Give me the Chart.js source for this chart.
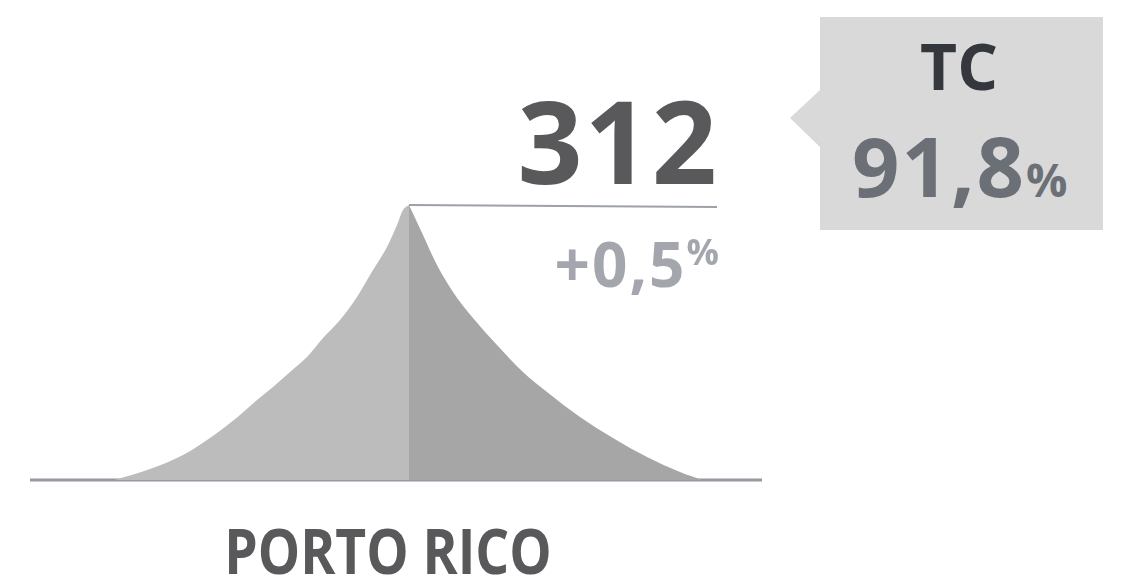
<!DOCTYPE html>
<html lang="pt">
<head>
<meta charset="utf-8">
<title>Porto Rico</title>
<script src="https://cdn.jsdelivr.net/npm/chart.js@4/dist/chart.umd.min.js"></script>
<style>
    html, body {
        margin: 0;
        padding: 0;
        background: #ffffff;
    }

    #palco {
        position: relative;
        width: 1128px;
        height: 587px;
        overflow: hidden;
        font-family: "Open Sans", "Noto Sans", sans-serif;
    }

    #picoChart {
        position: absolute;
        left: 0;
        top: 0;
    }

    .texto {
        position: absolute;
        line-height: 1;
        white-space: nowrap;
    }

    #valor {
        top: 83px;
        right: 409px;
        font-size: 114px;
        font-weight: 700;
        color: #59595b;
        letter-spacing: 2px;
    }

    #variacao {
        top: 232px;
        right: 409px;
        font-size: 62px;
        font-weight: 700;
        color: #a3a7ad;
        letter-spacing: 2px;
    }

    #variacao sup {
        font-size: 36px;
        vertical-align: 22px;
        letter-spacing: 0;
    }

    #pais {
        top: 519px;
        left: 388px;
        transform: translateX(-50%) scaleX(0.86);
        font-size: 62px;
        font-weight: 700;
        color: #59595b;
    }

    #balao {
        position: absolute;
        left: 820px;
        top: 17px;
        width: 283px;
        height: 213px;
        background: #d9d9d9;
    }

    #balao::before {
        content: "";
        position: absolute;
        left: -30px;
        top: 73px;
        border-right: 30px solid #d9d9d9;
        border-top: 28px solid transparent;
        border-bottom: 29px solid transparent;
    }

    #rotuloTaxa {
        top: 17px;
        left: 139px;
        transform: translateX(-50%);
        font-size: 64px;
        font-weight: 700;
        color: #34373c;
    }

    #taxa {
        top: 106px;
        left: 32px;
        font-size: 83px;
        font-weight: 700;
        color: #6b7077;
        letter-spacing: 2px;
    }

    #taxa small {
        font-size: 46px;
        font-weight: 700;
        letter-spacing: 0;
    }
</style>
</head>
<body>
<div id="palco">
    <canvas id="picoChart" width="1128" height="587"></canvas>
    <div id="valor" class="texto"></div>
    <div id="variacao" class="texto"></div>
    <div id="pais" class="texto"></div>
    <div id="balao">
        <div id="rotuloTaxa" class="texto"></div>
        <div id="taxa" class="texto"></div>
    </div>
</div>

<script>
// =========================
// DADOS
// =========================

// perfil da montanha (x = distância, y = altura acima da base)
const encostaEsquerdaX = [115, 150, 183, 217, 240, 257, 273, 290, 307, 323, 340, 357, 373, 387, 397, 403, 409];
const encostaEsquerdaY = [0, 11, 25, 47, 65, 80, 93, 108, 123, 142, 160, 183, 210, 233, 255, 270, 275];

const encostaDireitaX = [409, 423, 437, 453, 473, 497, 523, 547, 580, 613, 647, 680, 702];
const encostaDireitaY = [275, 245, 215, 188, 162, 135, 108, 88, 63, 42, 23, 8, 0];

const linhaBaseX = [30, 762];
const linhaBaseY = [0, 0];

const linhaPicoX = [409, 717];
const linhaPicoY = [275, 273];

const valorPrincipal = "312";
const valorVariacao = "+0,5";
const nomePais = "PORTO RICO";
const rotuloTaxa = "TC";
const valorTaxa = "91,8";

document.addEventListener("DOMContentLoaded", iniciarGrafico);

function iniciarGrafico() {

    preencherTextos();

    criarGraficoPico();

}


// =========================
// TEXTOS
// =========================

function preencherTextos() {

    document.getElementById("valor").textContent = valorPrincipal;

    document.getElementById("variacao").innerHTML =
        `${valorVariacao}<sup>%</sup>`;

    document.getElementById("pais").textContent = nomePais;

    document.getElementById("rotuloTaxa").textContent = rotuloTaxa;

    document.getElementById("taxa").innerHTML =
        `${valorTaxa}<small>%</small>`;

}


// =========================
// GRÁFICO
// =========================

function pontos(xs, ys) {

    return xs.map((x, i) => ({ x: x, y: ys[i] }));

}

function criarGraficoPico() {

    const ctx = document.getElementById("picoChart");

    new Chart(ctx, {

        type: "line",

        data: {

            datasets: [

                {
                    data: pontos(encostaEsquerdaX, encostaEsquerdaY),
                    borderWidth: 0,
                    borderColor: "rgba(0,0,0,0)",
                    backgroundColor: "#bcbcbc",
                    fill: "origin",
                    cubicInterpolationMode: "monotone",
                    pointRadius: 0
                },

                {
                    data: pontos(encostaDireitaX, encostaDireitaY),
                    borderWidth: 0,
                    borderColor: "rgba(0,0,0,0)",
                    backgroundColor: "#a6a6a6",
                    fill: "origin",
                    cubicInterpolationMode: "monotone",
                    pointRadius: 0
                },

                {
                    data: pontos(linhaBaseX, linhaBaseY),
                    borderColor: "#959aa3",
                    borderWidth: 3,
                    fill: false,
                    pointRadius: 0
                },

                {
                    data: pontos(linhaPicoX, linhaPicoY),
                    borderColor: "#9da1a8",
                    borderWidth: 2,
                    fill: false,
                    pointRadius: 0
                }

            ]

        },

        options: {

            responsive: false,
            animation: false,

            layout: {
                padding: 0,
                autoPadding: false
            },

            plugins: {
                legend: { display: false },
                tooltip: { enabled: false }
            },

            scales: {

                x: {
                    type: "linear",
                    display: false,
                    min: 0,
                    max: 1128
                },

                y: {
                    display: false,
                    min: -107,
                    max: 480
                }

            }

        }

    });

}
</script>
</body>
</html>
